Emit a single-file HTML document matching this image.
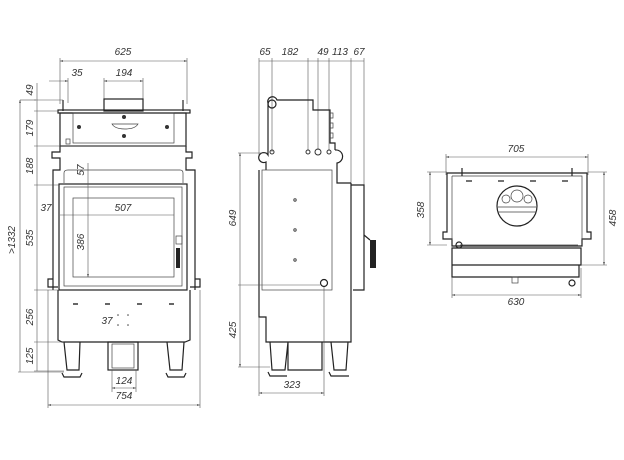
<!DOCTYPE html>
<html><head><style>
html,body{margin:0;padding:0;background:#fff}
svg{display:block}
text{font-family:"Liberation Sans",sans-serif;font-style:italic;font-size:10px;fill:#333;text-anchor:middle}
.d{stroke:#555;stroke-width:.6;fill:none}
.b{stroke:#222;stroke-width:1.2;fill:none}
.t{stroke:#444;stroke-width:.7;fill:none}
</style></head><body>
<svg width="624" height="460" viewBox="0 0 624 460" xmlns="http://www.w3.org/2000/svg">
<defs><marker id="a" markerWidth="6" markerHeight="6" refX="5" refY="3" orient="auto-start-reverse"><path d="M0,1.5L5,3L0,4.5z" fill="#444"/></marker></defs>

<!-- FRONT VIEW -->
<line class="d" x1="60" y1="61" x2="187" y2="61" marker-start="url(#a)" marker-end="url(#a)"/>
<text x="123" y="55">625</text>
<line class="d" x1="60" y1="58" x2="60" y2="104"/><line class="d" x1="187" y1="58" x2="187" y2="104"/>
<line class="d" x1="49" y1="81" x2="68" y2="81" marker-end="url(#a)"/><text x="77" y="76">35</text>
<line class="d" x1="68" y1="78" x2="68" y2="103"/>
<line class="d" x1="104" y1="81" x2="143" y2="81" marker-start="url(#a)" marker-end="url(#a)"/><text x="124" y="76">194</text>
<line class="d" x1="104" y1="78" x2="104" y2="99"/><line class="d" x1="143" y1="78" x2="143" y2="99"/>
<rect class="b" x="104" y="99" width="39" height="12"/>
<line class="b" x1="63" y1="100" x2="63" y2="111"/><line class="b" x1="183" y1="100" x2="183" y2="111"/>
<rect class="b" x="58" y="110" width="132" height="3"/>
<rect class="b" x="60" y="113" width="126" height="33"/>
<rect class="t" x="73" y="113" width="101" height="30"/>
<path class="t" d="M112,124 h26 q-3,5 -13,5 q-10,0 -13,-5z"/>
<circle cx="124" cy="117" r="2" fill="#333"/><circle cx="124" cy="136" r="2" fill="#333"/>
<circle cx="79" cy="127" r="2" fill="#333"/><circle cx="167" cy="127" r="2" fill="#333"/>
<rect class="t" x="66" y="139" width="4" height="5"/>
<path class="b" d="M60,146 V152 H52 V158 H60 V170 H53 V290"/>
<path class="b" d="M186,146 V152 H192 V158 H186 V170 H195 V290"/>
<path class="t" d="M60,146 H186 M64,183 V173 Q64,170 68,170 H180 Q183,170 183,173 V183"/>
<rect class="b" x="59" y="184" width="128" height="106"/>
<rect class="t" x="64" y="187" width="118" height="99"/>
<rect class="t" x="73" y="198" width="101" height="79"/>
<rect x="176" y="248" width="4" height="20" fill="#222"/>
<rect class="t" x="176" y="236" width="6" height="8"/>
<path class="b" d="M53,279 H48 V287 H58 M195,279 H200 V287 H190"/>
<path class="b" d="M58,290 V340 L62,342 H185 L190,340 V290"/>
<g stroke="#333" stroke-width="1.5"><line x1="73" y1="304" x2="78" y2="304"/><line x1="105" y1="304" x2="110" y2="304"/><line x1="137" y1="304" x2="142" y2="304"/><line x1="169" y1="304" x2="174" y2="304"/></g>
<g fill="#444"><circle cx="118" cy="315" r=".8"/><circle cx="128" cy="315" r=".8"/><circle cx="118" cy="325" r=".8"/><circle cx="128" cy="325" r=".8"/></g>
<text x="107" y="324">37</text>
<path class="b" d="M64,342 L67,370 H79 L80,342 M167,342 L170,370 H182 L184,342"/>
<path class="b" d="M62,373 L64,377 H80 L82,373 M166,373 L168,377 H184 L186,373"/>
<rect class="b" x="108" y="342" width="30" height="28"/>
<rect class="t" x="112" y="344" width="22" height="24"/>
<line class="d" x1="112" y1="370" x2="112" y2="392"/><line class="d" x1="136" y1="370" x2="136" y2="392"/>
<line class="d" x1="112" y1="388" x2="136" y2="388" marker-start="url(#a)" marker-end="url(#a)"/><text x="124" y="384">124</text>
<line class="d" x1="48" y1="290" x2="48" y2="408"/><line class="d" x1="200" y1="290" x2="200" y2="408"/>
<line class="d" x1="48" y1="405" x2="200" y2="405" marker-start="url(#a)" marker-end="url(#a)"/><text x="124" y="399">754</text>
<!-- left dims -->
<line class="d" x1="37" y1="83" x2="37" y2="371"/>
<g class="d"><line x1="34" y1="100" x2="63" y2="100"/><line x1="34" y1="111" x2="58" y2="111"/><line x1="34" y1="146" x2="60" y2="146"/><line x1="34" y1="185" x2="59" y2="185"/><line x1="34" y1="290" x2="59" y2="290"/><line x1="34" y1="342" x2="64" y2="342"/><line x1="34" y1="371" x2="64" y2="371"/></g>
<line class="d" x1="20" y1="100" x2="20" y2="372" marker-start="url(#a)"/><line class="d" x1="20" y1="100" x2="36" y2="100"/><line class="d" x1="18" y1="372" x2="64" y2="372"/>
<g font-size="10">
<text transform="translate(33,90) rotate(-90)">49</text>
<text transform="translate(33,128) rotate(-90)">179</text>
<text transform="translate(33,166) rotate(-90)">188</text>
<text transform="translate(33,238) rotate(-90)">535</text>
<text transform="translate(33,317) rotate(-90)">256</text>
<text transform="translate(33,356) rotate(-90)">125</text>
<text transform="translate(15,240) rotate(-90)">&gt;1332</text>
<text transform="translate(84,170) rotate(-90)">57</text>
<text transform="translate(84,242) rotate(-90)">386</text>
</g>
<line class="d" x1="88" y1="163" x2="88" y2="277" marker-end="url(#a)"/>
<line class="d" x1="60" y1="215" x2="174" y2="215"/><text x="46" y="211">37</text><text x="123" y="211">507</text>

<!-- SIDE VIEW -->
<line class="d" x1="259" y1="61" x2="364" y2="61"/>
<g class="d"><line x1="259" y1="58" x2="259" y2="157"/><line x1="272" y1="58" x2="272" y2="152"/><line x1="308" y1="58" x2="308" y2="150"/><line x1="318" y1="58" x2="318" y2="150"/><line x1="329" y1="58" x2="329" y2="150"/><line x1="351" y1="58" x2="351" y2="185"/><line x1="364" y1="58" x2="364" y2="240"/></g>
<text x="265" y="55">65</text><text x="290" y="55">182</text><text x="323" y="55">49</text><text x="340" y="55">113</text><text x="359" y="55">67</text>
<path class="b" d="M268,110 V103 A4,4 0 0 1 277,100 H313 V110 H330 V143 H335 V150"/>
<circle class="b" cx="272" cy="104" r="4"/>
<path class="t" d="M330,113 h3 v5 h-3 m0,5 h3 v5 h-3 m0,5 h3 v5 h-3"/>
<path class="b" d="M268,110 V155 A5,5 0 1 0 266,162 V170 M335,150 A5,5 0 1 1 337,163 V183 H351"/>
<g fill="none" stroke="#333"><circle cx="272" cy="152" r="2"/><circle cx="308" cy="152" r="2"/><circle cx="318" cy="152" r="3"/><circle cx="329" cy="152" r="2"/></g>
<path class="b" d="M259,170 V317 H266 V342 H351 V183"/>
<rect class="t" x="262" y="170" width="70" height="120"/>
<circle class="b" cx="324" cy="283" r="3.5"/>
<circle cx="295" cy="200" r="1.2" fill="none" stroke="#444"/><circle cx="295" cy="230" r="1.2" fill="none" stroke="#444"/><circle cx="295" cy="260" r="1.2" fill="none" stroke="#444"/>
<path class="b" d="M351,185 H364 V290 H353 M364,240 V232"/>
<rect x="370" y="240" width="6" height="28" fill="#222"/><path class="b" d="M364,235 L370,240"/>
<path class="b" d="M270,342 L272,370 H285 L288,342 M331,342 L334,370 H346 L348,342 M288,342 V370 H322 V342"/>
<path class="b" d="M268,372 L270,376 H287 M329,372 L331,376 H349"/>
<line class="d" x1="259" y1="317" x2="259" y2="396"/><line class="d" x1="324" y1="287" x2="324" y2="396"/>
<line class="d" x1="259" y1="393" x2="324" y2="393" marker-start="url(#a)" marker-end="url(#a)"/><text x="292" y="388">323</text>
<line class="d" x1="240" y1="153" x2="240" y2="367" marker-start="url(#a)" marker-end="url(#a)"/>
<line class="d" x1="238" y1="153" x2="268" y2="153"/><line class="d" x1="238" y1="285" x2="320" y2="285"/><line class="d" x1="238" y1="367" x2="270" y2="367"/>
<text transform="translate(236,218) rotate(-90)">649</text>
<text transform="translate(236,330) rotate(-90)">425</text>

<!-- TOP VIEW -->
<line class="d" x1="446" y1="157" x2="588" y2="157" marker-start="url(#a)" marker-end="url(#a)"/><text x="516" y="152">705</text>
<line class="d" x1="446" y1="154" x2="446" y2="175"/><line class="d" x1="588" y1="154" x2="588" y2="175"/>
<path class="b" d="M447,173 H587 V232 H591 V239 H582 V246 H452 V239 H443 V232 H447 Z"/>
<path class="t" d="M452,176 H582 V240 M452,176 V240 M460,245 H578"/>
<line class="b" x1="462" y1="168" x2="462" y2="176"/><line class="b" x1="572" y1="168" x2="572" y2="176"/>
<g stroke="#444" stroke-width="1.5"><line x1="466" y1="181" x2="472" y2="181"/><line x1="498" y1="181" x2="504" y2="181"/><line x1="530" y1="181" x2="536" y2="181"/><line x1="562" y1="181" x2="568" y2="181"/></g>
<circle class="b" cx="517" cy="206" r="20"/>
<circle class="t" cx="517" cy="196" r="6"/><circle class="t" cx="506" cy="199" r="4"/><circle class="t" cx="528" cy="199" r="4"/>
<path class="t" d="M498,207 H536 M498,212 H536"/>
<circle class="b" cx="459" cy="245" r="3"/>
<path class="b" d="M452,248 H581 V265 H452 Z M452,265 V277 H579 V265"/>
<rect class="t" x="512" y="277" width="6" height="6"/><circle class="b" cx="572" cy="283" r="3"/>
<line class="d" x1="452" y1="277" x2="452" y2="298"/><line class="d" x1="581" y1="268" x2="581" y2="298"/>
<line class="d" x1="452" y1="295" x2="581" y2="295" marker-start="url(#a)" marker-end="url(#a)"/><text x="516" y="305">630</text>
<line class="d" x1="430" y1="172" x2="430" y2="245" marker-start="url(#a)" marker-end="url(#a)"/>
<line class="d" x1="427" y1="172" x2="447" y2="172"/><line class="d" x1="427" y1="245" x2="447" y2="245"/>
<text transform="translate(424,210) rotate(-90)">358</text>
<line class="d" x1="604" y1="172" x2="604" y2="265" marker-start="url(#a)" marker-end="url(#a)"/>
<line class="d" x1="588" y1="172" x2="607" y2="172"/><line class="d" x1="581" y1="265" x2="607" y2="265"/>
<text transform="translate(616,218) rotate(-90)">458</text>
</svg>
</body></html>
